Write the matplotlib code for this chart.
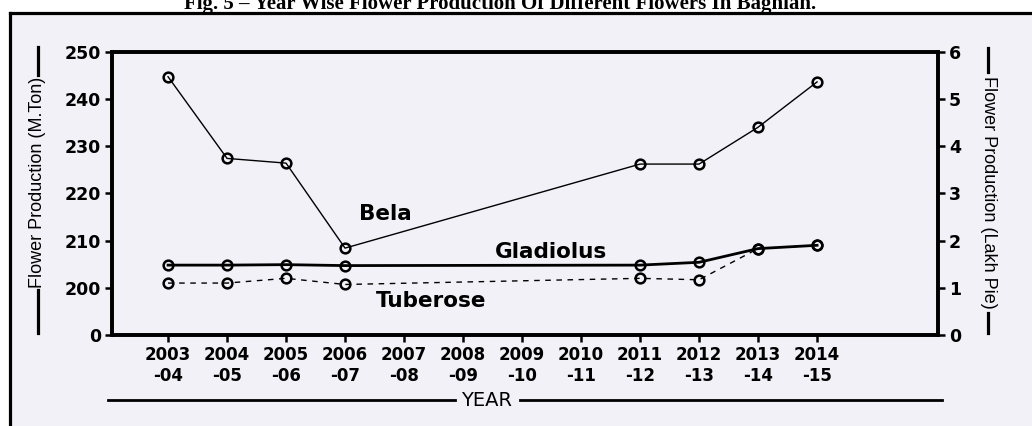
import numpy as np
import matplotlib
matplotlib.use("Agg")
import matplotlib.pyplot as plt
from matplotlib.lines import Line2D
from matplotlib.patches import Rectangle

# Données (M.Ton, axe gauche avec coupure entre 0 et 200)
years = ['2003\n-04', '2004\n-05', '2005\n-06', '2006\n-07', '2007\n-08', '2008\n-09',
         '2009\n-10', '2010\n-11', '2011\n-12', '2012\n-13', '2013\n-14', '2014\n-15']
idx = [0, 1, 2, 3, 8, 9, 10, 11]
bela = [244.7, 227.4, 226.4, 208.4, 226.2, 226.2, 234.0, 243.6]
gladiolus = [204.8, 204.8, 204.9, 204.7, 204.8, 205.4, 208.3, 209.0]
tuberose = [201.0, 201.0, 202.0, 200.7, 202.0, 201.7, 208.3, 209.0]
left_ticks = [0, 200, 210, 220, 230, 240, 250]
right_ticks = [0, 1, 2, 3, 4, 5, 6]

W, H = 1032, 426
BG = '#f1f1f7'


def fx(px):
    return px / W


def fy(py):
    return 1 - py / H


# échelle coupée : 0-200 occupe un pas, puis 10 par pas
def fwd(v):
    v = np.asarray(v, dtype=float)
    return np.where(v >= 200, (v - 200) / 10 + 1, v / 200)


def inv(p):
    p = np.asarray(p, dtype=float)
    return np.where(p >= 1, (p - 1) * 10 + 200, p * 200)


fig = plt.figure(figsize=(W / 100, H / 100), dpi=100, facecolor='white')
fig.patches.append(Rectangle((fx(10), 0), 1 - fx(10), fy(13), transform=fig.transFigure,
                             facecolor=BG, edgecolor='none', zorder=-10))
# cadre extérieur
fig.add_artist(Line2D([fx(10), 1], [fy(13), fy(13)], color='black', lw=2.3))
fig.add_artist(Line2D([fx(10), fx(10)], [fy(13), 0], color='black', lw=2.3))

ax = fig.add_axes([fx(112), fy(335), fx(938) - fx(112), fy(51.7) - fy(335)])
ax.set_facecolor(BG)
ax.set_yscale('function', functions=(fwd, inv))
ax.set_ylim(0, 250)
ax.set_xlim(-0.95, 13.05)

mk = dict(marker='o', ms=7, mfc='none', mec='black', mew=1.8)
ax.plot(idx, bela, color='black', lw=1.0, **mk)
ax.plot(idx, tuberose, color='black', lw=1.0, linestyle=(0, (4, 4)), **mk)
ax.plot(idx, gladiolus, color='black', lw=2.0, **mk)

ax.set_xticks(range(len(years)))
ax.set_xticklabels(years, fontsize=12, fontweight='bold', family='DejaVu Sans')
ax.set_yticks(left_ticks)
ax.set_yticklabels([str(t) for t in left_ticks], fontsize=12.5, fontweight='bold',
                   family='DejaVu Sans')
ax.yaxis.set_minor_locator(matplotlib.ticker.NullLocator())
ax.tick_params(axis='both', direction='out', length=5, width=1.8, pad=3)

for s in ax.spines.values():
    s.set_linewidth(2.6)

ax2 = ax.twinx()
ax2.set_ylim(0, 6)
ax2.set_yticks(right_ticks)
ax2.set_yticklabels([str(t) for t in right_ticks], fontsize=12.5, fontweight='bold',
                    family='DejaVu Sans')
ax2.tick_params(axis='y', direction='out', length=5, width=1.8, pad=3)
for s in ax2.spines.values():
    s.set_linewidth(2.6)

# étiquettes des séries
lab = dict(fontsize=15.5, fontweight='bold', family='DejaVu Sans', ha='center', va='center',
           transform=ax.transAxes)
ax.text(0.3305, 0.427, 'Bela', **lab)
ax.text(0.5315, 0.293, 'Gladiolus', **lab)
ax.text(0.386, 0.120, 'Tuberose', **lab)

# titres d'axes avec traits
fig.text(fx(38), fy(182), 'Flower Production (M.Ton)', rotation=90, ha='center', va='center',
         fontsize=13, family='Liberation Sans')
fig.add_artist(Line2D([fx(38), fx(38)], [fy(47), fy(75)], color='black', lw=2.3))
fig.add_artist(Line2D([fx(38), fx(38)], [fy(290), fy(333)], color='black', lw=2.3))

fig.text(fx(988), fy(192), 'Flower Production (Lakh Pie)', rotation=270, ha='center',
         va='center', fontsize=13, family='Liberation Sans')
fig.add_artist(Line2D([fx(988), fx(988)], [fy(48), fy(72)], color='black', lw=2.3))
fig.add_artist(Line2D([fx(988), fx(988)], [fy(313), fy(333)], color='black', lw=2.3))

fig.text(fx(487), fy(400), 'YEAR', ha='center', va='center', fontsize=14,
         family='DejaVu Sans')
fig.add_artist(Line2D([fx(108), fx(455)], [fy(400), fy(400)], color='black', lw=2.0))
fig.add_artist(Line2D([fx(520), fx(942)], [fy(400), fy(400)], color='black', lw=2.0))

fig.text(fx(500), fy(9), 'Fig. 5 \u2013 Year Wise Flower Production Of Different Flowers In Baghlan.',
         ha='center', va='baseline', fontsize=15, fontweight='bold', family='Liberation Serif')

fig.savefig('out.png', dpi=100, facecolor=fig.get_facecolor())
